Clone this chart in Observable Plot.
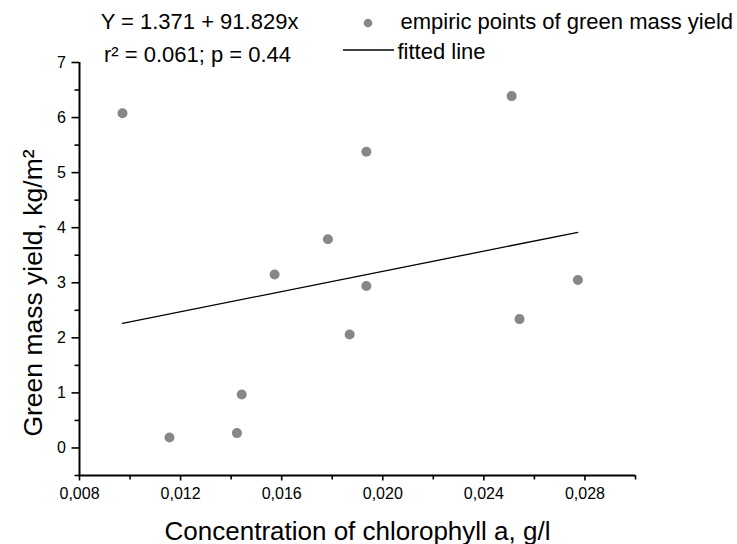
<!DOCTYPE html>
<html><head><meta charset="utf-8">
<script src="https://cdn.jsdelivr.net/npm/d3@7"></script>
<script src="https://cdn.jsdelivr.net/npm/@observablehq/plot@0.6"></script>
<style>body{margin:0;background:#fff}</style>
</head><body><div id="chart"></div>
<script>
// Data
const chlorophyll = [0.0097, 0.01156, 0.01423, 0.01442, 0.01572, 0.01783, 0.01869, 0.01935, 0.01935, 0.0251, 0.02541, 0.02772];
const greenMassYield = [6.08, 0.19, 0.27, 0.97, 3.15, 3.79, 2.06, 5.38, 2.94, 6.39, 2.34, 3.05];
const intercept = 1.371;
const slope = 91.829;

const xDomain = [0.008, 0.030];
const yDomain = [-0.5, 7];
const xMajorTicks = [0.008, 0.012, 0.016, 0.020, 0.024, 0.028];
const xMinorTicks = [0.010, 0.014, 0.018, 0.022, 0.026, 0.030];
const yMajorTicks = [0, 1, 2, 3, 4, 5, 6, 7];
const yMinorTicks = [-0.5, 0.5, 1.5, 2.5, 3.5, 4.5, 5.5, 6.5];

const equationText = "Y = 1.371 + 91.829x";
const statsText = "r\u00B2 = 0.061; p = 0.44";
const legendPointsText = "empiric points of green mass yield";
const legendLineText = "fitted line";
const xLabel = "Concentration of chlorophyll a, g/l";
const yLabel = "Green mass yield, kg/m\u00B2";

const points = chlorophyll.map((x, i) => ({x, y: greenMassYield[i]}));
const xExtent = d3.extent(chlorophyll);
const fitted = xExtent.map(x => ({x, y: intercept + slope * x}));

const font = "'Liberation Sans', Arial, sans-serif";
const pointColor = "#878787";

function legendGraphics(index, scales, values, dimensions) {
  const g = d3.create("svg:g");
  g.append("circle").attr("cx", 368).attr("cy", 23).attr("r", 4.3).attr("fill", pointColor);
  g.append("line").attr("x1", 343).attr("x2", 394).attr("y1", 50).attr("y2", 50)
    .attr("stroke", "black").attr("stroke-width", 1.3);
  return g.node();
}

const chart = Plot.plot({
  width: 737,
  height: 544,
  marginLeft: 79,
  marginRight: 102,
  marginTop: 62,
  marginBottom: 69,
  style: {fontFamily: font, fontSize: "16px", color: "black", background: "white", overflow: "visible"},
  x: {domain: xDomain, label: null},
  y: {domain: yDomain, label: null},
  marks: [
    Plot.axisX(xMajorTicks, {anchor: "bottom", tickSize: 5.5, tickPadding: 7, fontSize: 16, strokeWidth: 1.6,
      tickFormat: d => d3.format(".3f")(d).replace(".", ","), label: null}),
    Plot.axisX(xMinorTicks, {anchor: "bottom", tickSize: 4.5, strokeWidth: 1.6, tickFormat: () => "", label: null}),
    Plot.axisY(yMajorTicks, {anchor: "left", tickSize: 7.5, tickPadding: 6, fontSize: 16, strokeWidth: 1.6,
      tickFormat: d => String(d), label: null}),
    Plot.axisY(yMinorTicks, {anchor: "left", tickSize: 4.5, strokeWidth: 1.6, tickFormat: () => "", label: null}),
    Plot.ruleY([yDomain[0]], {stroke: "black", strokeWidth: 2}),
    Plot.ruleX([xDomain[0]], {stroke: "black", strokeWidth: 2}),
    Plot.line(fitted, {x: "x", y: "y", stroke: "black", strokeWidth: 1.3}),
    Plot.dot(points, {x: "x", y: "y", r: 5, fill: pointColor, stroke: "none"}),
    Plot.text([equationText], {frameAnchor: "top-left", dx: 120, dy: -34, textAnchor: "middle", lineAnchor: "bottom", fontSize: 22, fill: "black"}),
    Plot.text([statsText], {frameAnchor: "top-left", dx: 118, dy: -1, textAnchor: "middle", lineAnchor: "bottom", fontSize: 22, fill: "black"}),
    Plot.text([legendPointsText], {frameAnchor: "top-left", dx: 321, dy: -34, textAnchor: "start", lineAnchor: "bottom", fontSize: 22, fill: "black"}),
    Plot.text([legendLineText], {frameAnchor: "top-left", dx: 318, dy: -4, textAnchor: "start", lineAnchor: "bottom", fontSize: 22, fill: "black"}),
    legendGraphics,
    Plot.text([xLabel], {frameAnchor: "bottom", dy: 64, textAnchor: "middle", lineAnchor: "bottom", fontSize: 26, fill: "black"}),
    Plot.text([yLabel], {frameAnchor: "left", rotate: -90, dx: -38, dy: 24, textAnchor: "middle", lineAnchor: "bottom", fontSize: 26.5, fill: "black"})
  ]
});
document.getElementById("chart").append(chart);
</script>
</body></html>
